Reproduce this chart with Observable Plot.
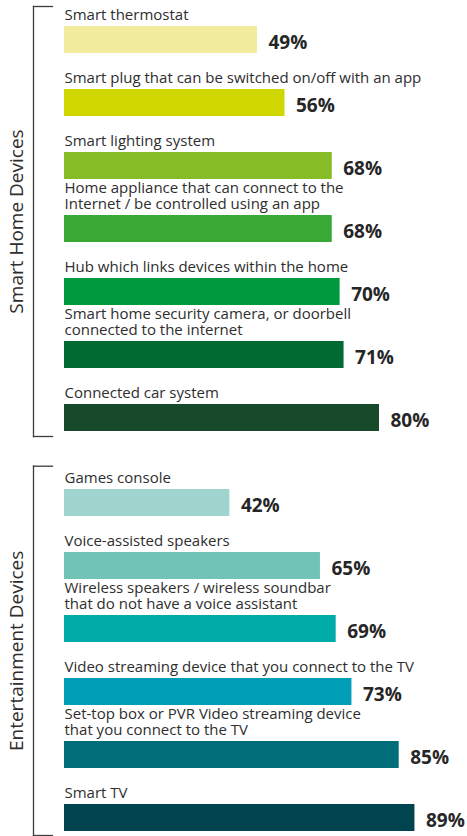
<!DOCTYPE html>
<html>
<head>
<meta charset="utf-8">
<script src="https://cdn.jsdelivr.net/npm/d3@7"></script>
<script src="https://cdn.jsdelivr.net/npm/@observablehq/plot@0.6"></script>
<style>
  html, body { margin: 0; padding: 0; background: #fff; }
  #chart svg { display: block; }
</style>
</head>
<body>
<div id="chart"></div>
<script>
// ---- data ----
const groups = ["Smart Home Devices", "Entertainment Devices"];

const homeLabels = [
  "Smart thermostat",
  "Smart plug that can be switched on/off with an app",
  "Smart lighting system",
  "Home appliance that can connect to the\nInternet / be controlled using an app",
  "Hub which links devices within the home",
  "Smart home security camera, or doorbell\nconnected to the internet",
  "Connected car system"
];
const homeValues = [49, 56, 68, 68, 70, 71, 80];
const homeColors = ["#f2ec9e", "#cfd600", "#86bc25", "#38a935", "#009a3e", "#006a31", "#164a2b"];

const entLabels = [
  "Games console",
  "Voice-assisted speakers",
  "Wireless speakers / wireless soundbar\nthat do not have a voice assistant",
  "Video streaming device that you connect to the TV",
  "Set-top box or PVR Video streaming device\nthat you connect to the TV",
  "Smart TV"
];
const entValues = [42, 65, 69, 73, 85, 89];
const entColors = ["#a0d5cf", "#70c3b5", "#00aca7", "#009fb7", "#006d78", "#00444f"];

// ---- chart ----
const W = 467;
const textColor = "#2e2e2e";

function makeChart(groupName, labels, values, colors, layout) {
  const data = labels.map((label, i) => ({label, value: values[i], color: colors[i]}));
  const bracketTickRight = W - layout.marginRight - 52;
  return Plot.plot({
    width: W,
    height: layout.height,
    marginLeft: 64,
    marginRight: layout.marginRight,
    marginTop: layout.marginTop,
    marginBottom: layout.marginBottom,
    style: {fontFamily: "'Open Sans', sans-serif", fontSize: "15px", color: textColor, background: "white", overflow: "visible"},
    x: {domain: [0, 100], axis: null},
    y: {domain: labels, range: layout.yRange, paddingInner: 0.577, paddingOuter: 0, axis: null},
    color: {type: "identity"},
    marks: [
      // bracket
      Plot.frame({anchor: "left", insetLeft: -31, stroke: "#3c3c3c", strokeWidth: 1.3}),
      Plot.frame({anchor: "top", insetLeft: -31, insetRight: bracketTickRight, stroke: "#3c3c3c", strokeWidth: 1.3}),
      Plot.frame({anchor: "bottom", insetLeft: -31, insetRight: bracketTickRight, stroke: "#3c3c3c", strokeWidth: 1.3}),
      // group title
      Plot.text([groupName], {frameAnchor: "left", text: d => d, rotate: -90, dx: -42, lineAnchor: "bottom", textAnchor: "middle", fontSize: 19, fill: textColor}),
      // bars
      Plot.barX(data, {x: "value", y: "label", fill: "color"}),
      // category labels
      Plot.text(data, {y: "label", text: "label", frameAnchor: "left", textAnchor: "start", lineAnchor: "bottom", lineHeight: 1.06, dy: -20, fontSize: 15, fill: textColor}),
      // value labels
      Plot.text(data, {x: "value", y: "label", text: d => d.value + "%", textAnchor: "start", lineAnchor: "bottom", dx: 11, dy: 8.7, fontSize: 19, fontWeight: "bold", fill: "#262626"})
    ]
  });
}

const root = document.getElementById("chart");
root.appendChild(makeChart(groups[0], homeLabels, homeValues, homeColors,
  {height: 450, marginTop: 6, marginBottom: 14, marginRight: 9.25, yRange: [25, 430.7]}));
root.appendChild(makeChart(groups[1], entLabels, entValues, entColors,
  {height: 386, marginTop: 15.7, marginBottom: 1, marginRight: 9.25, yRange: [38, 380.7]}));
</script>
</body>
</html>
